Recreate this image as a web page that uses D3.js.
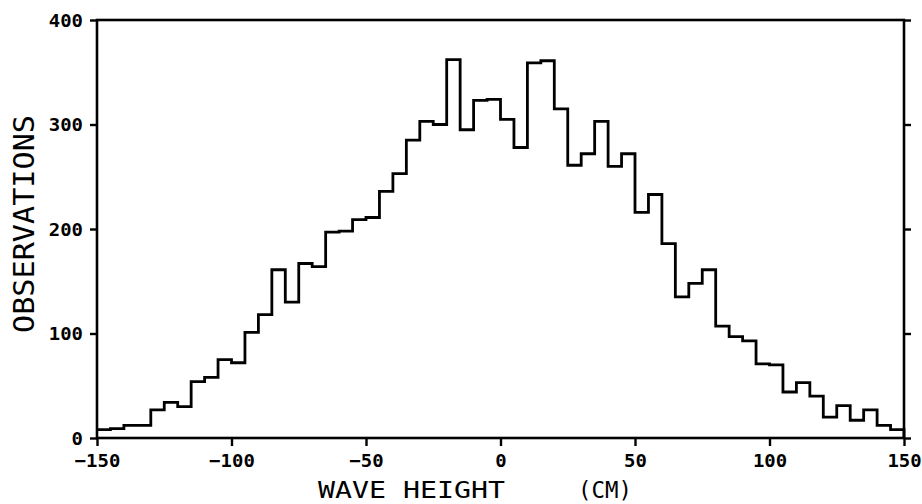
<!DOCTYPE html>
<html>
<head>
<meta charset="utf-8">
<script src="https://cdn.jsdelivr.net/npm/d3@7"></script>
<style>
  html, body { margin: 0; padding: 0; background: #fff; }
  svg { display: block; }
</style>
</head>
<body>
<svg id="chart" width="922" height="504"></svg>
<script>
// ---- data ----
const binStart = -150;
const binWidth = 5;
const counts = [8, 9, 12, 12, 27, 34, 30, 54, 58, 75,
                72, 101, 118, 161, 130, 167, 164, 197, 198, 209,
                211, 236, 253, 285, 303, 300, 362, 295, 323, 324,
                305, 278, 359, 361, 315, 261, 272, 303, 260, 272,
                216, 233, 186, 135, 148, 161, 107, 97, 93, 71,
                70, 44, 53, 40, 20, 31, 17, 27, 12, 8];
const xTicks = [-150, -100, -50, 0, 50, 100, 150];
const yTicks = [0, 100, 200, 300, 400];
const xTitle = "WAVE HEIGHT";
const xUnit = "(CM)";
const yTitle = "OBSERVATIONS";

(function () {
// ---- layout ----
const svg = d3.select("#chart");
const mLeft = 97, mRight = 904, mTop = 20, mBottom = 438;
const x = d3.scaleLinear().domain([-150, 150]).range([mLeft, mRight]);
const y = d3.scaleLinear().domain([0, 400]).range([mBottom, mTop]);

const tickFont = "'DejaVu Sans Mono', monospace";

// axes
const gx = svg.append("g").attr("transform", `translate(0,${mBottom})`)
  .call(d3.axisBottom(x).tickValues(xTicks).tickSize(8).tickSizeOuter(0).tickFormat(d3.format("d")));
const gy = svg.append("g").attr("transform", `translate(${mLeft},0)`)
  .call(d3.axisLeft(y).tickValues(yTicks).tickSize(7).tickSizeOuter(0).tickFormat(d3.format("d")));
const gr = svg.append("g").attr("transform", `translate(${mRight},0)`)
  .call(d3.axisRight(y).tickValues(yTicks).tickSize(7).tickSizeOuter(0).tickFormat(""));

[gx, gy, gr].forEach(g => {
  g.select(".domain").remove();
  g.selectAll(".tick line").attr("stroke", "#000").attr("stroke-width", 2.4);
  g.selectAll("text").attr("fill", "#000")
    .style("font-family", tickFont).style("font-weight", "bold").style("font-size", "18px")
    .attr("lengthAdjust", "spacingAndGlyphs")
    .attr("textLength", function () { return this.textContent.length * 11.4; });
});
gx.selectAll("text").attr("y", 29).attr("dy", 0);
gy.selectAll("text").attr("x", -14).attr("dy", "0.36em");

// frame
svg.append("rect")
  .attr("x", mLeft).attr("y", mTop)
  .attr("width", mRight - mLeft).attr("height", mBottom - mTop)
  .attr("fill", "none").attr("stroke", "#000").attr("stroke-width", 2.6);

// histogram step line
const pts = counts.map((c, i) => [binStart + i * binWidth, c]);
pts.push([binStart + counts.length * binWidth, counts[counts.length - 1]]);
const line = d3.line().x(d => x(d[0])).y(d => y(d[1])).curve(d3.curveStepAfter);
svg.append("path")
  .attr("d", line(pts) + `L${x(150)},${y(0)}`)
  .attr("fill", "none").attr("stroke", "#000").attr("stroke-width", 2.8)
  .attr("stroke-linejoin", "miter");

// titles
const titleFont = "'DejaVu Sans Mono', monospace";
svg.append("text")
  .attr("x", 318).attr("y", 498)
  .attr("textLength", 187).attr("lengthAdjust", "spacingAndGlyphs")
  .style("font-family", titleFont).style("font-size", "23px").attr("fill", "#000")
  .text(xTitle);
svg.append("text")
  .attr("x", 578).attr("y", 498)
  .attr("textLength", 54).attr("lengthAdjust", "spacingAndGlyphs")
  .style("font-family", titleFont).style("font-size", "23px").attr("fill", "#000")
  .text(xUnit);
svg.append("text")
  .attr("transform", "translate(34,224) rotate(-90)")
  .attr("text-anchor", "middle")
  .attr("textLength", 218).attr("lengthAdjust", "spacingAndGlyphs")
  .style("font-family", titleFont).style("font-size", "28px").attr("fill", "#000")
  .text(yTitle);
})();
</script>
</body>
</html>
